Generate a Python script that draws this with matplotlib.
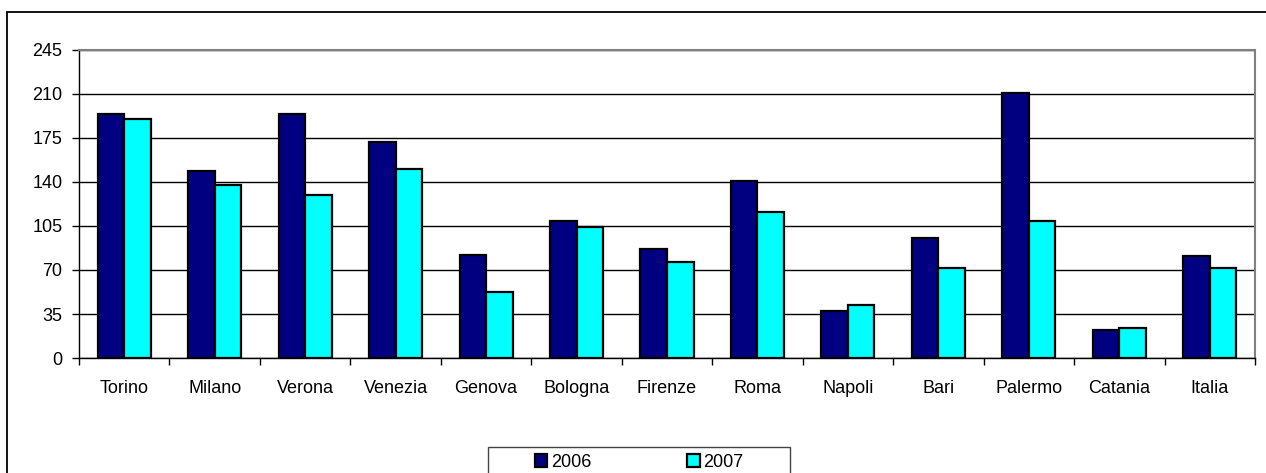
import matplotlib
matplotlib.use("Agg")
import matplotlib.pyplot as plt
import matplotlib.patches as mpatches
import numpy as np

plt.rcParams["font.family"] = ["Liberation Sans", "DejaVu Sans"]

cities = ["Torino", "Milano", "Verona", "Venezia", "Genova", "Bologna",
          "Firenze", "Roma", "Napoli", "Bari", "Palermo", "Catania", "Italia"]
vals_2006 = [194, 149, 194, 172, 82, 109, 87, 141, 37.6, 95.3, 210.5, 22, 80.8]
vals_2007 = [190, 137.7, 130, 150, 52.4, 104, 76, 116, 42.4, 71.8, 108.8, 23.8, 71.5]
yticks = [0, 35, 70, 105, 140, 175, 210, 245]

W, H = 1266, 473
fig = plt.figure(figsize=(W / 100, H / 100), dpi=100)
fig.patch.set_facecolor("white")

# outer chart frame (cut off on right and bottom)
fig.patches.append(mpatches.Rectangle((7 / W, -0.1), 1.2, 1.1 - 12 / H,
                                      transform=fig.transFigure, fill=False,
                                      edgecolor="black", linewidth=1.3))

ax = fig.add_axes([79 / W, 1 - 358 / H, (1255 - 79) / W, (358 - 50) / H])

x = np.arange(len(cities))
bw = 0.293
ax.bar(x - bw / 2, vals_2006, bw, color="#000080", edgecolor="black",
       linewidth=1.6, label="2006", zorder=3)
ax.bar(x + bw / 2, vals_2007, bw, color="#00FFFF", edgecolor="black",
       linewidth=1.6, label="2007", zorder=3)

ax.set_xlim(-0.5, len(cities) - 0.5)
ax.set_ylim(0, 245)
ax.set_yticks(yticks)
ax.yaxis.grid(True, color="black", linewidth=1.0, zorder=0)
ax.set_axisbelow(True)

ax.set_xticks(x)
ax.set_xticklabels(cities, fontsize=13)
ax.set_xticks(np.arange(len(cities) + 1) - 0.5, minor=True)
ax.tick_params(axis="x", which="major", length=0, pad=16)
ax.tick_params(axis="x", which="minor", length=5, width=1, direction="out")
ax.tick_params(axis="y", length=5, width=1, pad=7, labelsize=13)

ax.spines["top"].set_color("#808080")
ax.spines["right"].set_color("#808080")
ax.spines["top"].set_linewidth(1.5)
ax.spines["right"].set_linewidth(1.5)
ax.spines["left"].set_linewidth(1.0)
ax.spines["bottom"].set_linewidth(1.0)

# legend box
fig.patches.append(mpatches.Rectangle((488 / W, -0.1), 302 / W, 0.1 + 1 - 447 / H,
                                      transform=fig.transFigure, fill=False,
                                      edgecolor="#444", linewidth=1.0))
fig.legend(loc="center", bbox_to_anchor=(639 / W, 1 - 462 / H), ncol=2,
           frameon=False, fontsize=13, handlelength=0.7, handleheight=0.7,
           handletextpad=0.2, columnspacing=5.3, borderpad=0)

fig.savefig("out.png", dpi=100, facecolor="white")
